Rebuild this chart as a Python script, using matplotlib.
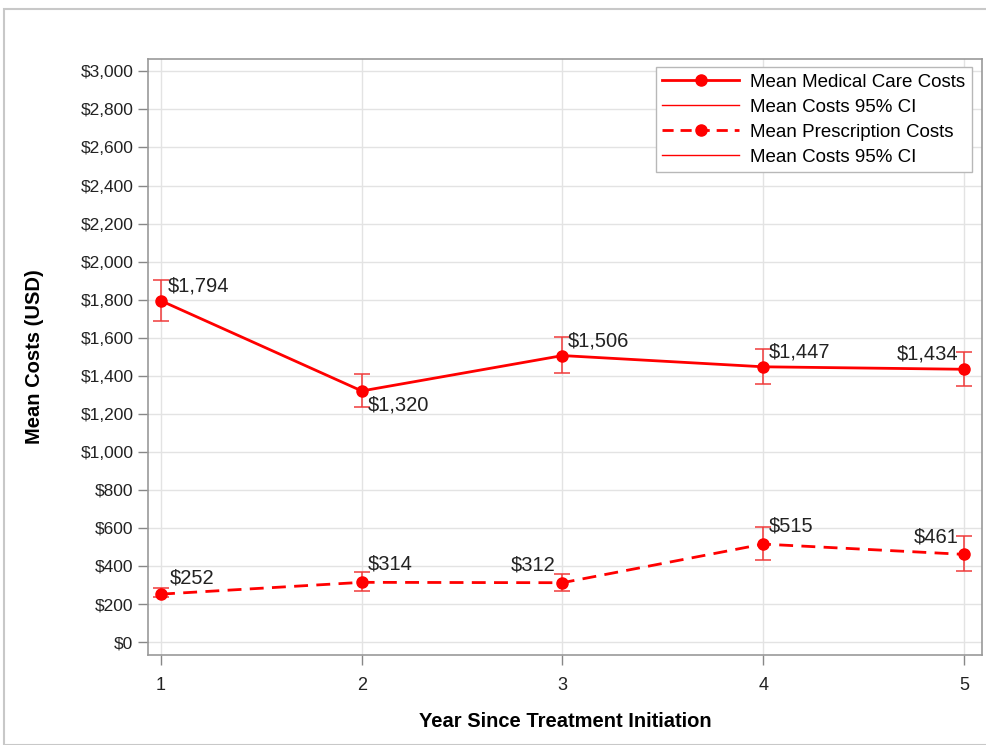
import matplotlib
matplotlib.use("Agg")
import matplotlib.pyplot as plt
from matplotlib.lines import Line2D
from matplotlib.patches import Rectangle
from matplotlib.ticker import FuncFormatter

plt.rcParams['font.family'] = ['Liberation Sans', 'DejaVu Sans']

years = [1, 2, 3, 4, 5]
medical_mean = [1794, 1320, 1506, 1447, 1434]
medical_lo = [1687, 1235, 1414, 1356, 1345]
medical_hi = [1902, 1408, 1603, 1540, 1524]
rx_mean = [252, 314, 312, 515, 461]
rx_lo = [236, 268, 268, 431, 373]
rx_hi = [284, 368, 357, 604, 557]
y_ticks = list(range(0, 3001, 200))

# label placement: (dx, dy) in points, horizontal alignment
medical_label_pos = [((5, 4), 'left'), ((4, -17), 'left'), ((4, 4), 'left'),
                     ((4, 4), 'left'), ((-4, 4), 'right')]
rx_label_pos = [((6, 5), 'left'), ((4, 6), 'left'), ((-5, 6), 'right'),
                ((4, 6), 'left'), ((-4, 6), 'right')]

RED = '#ff0000'
ERR = '#f03a3a'
fig = plt.figure(figsize=(9.86, 7.45), dpi=100)
ax = fig.add_axes([148 / 986, 1 - 655 / 745, (982 - 148) / 986, (655 - 59) / 745])

# outer frame of the graphic
fig.patches.append(Rectangle((4 / 986, 0.0), 1.2, 1 - 9 / 745, transform=fig.transFigure,
                             fill=False, edgecolor='#c8c8c8', linewidth=1.5))


def err(mean, lo, hi):
    return [[m - l for m, l in zip(mean, lo)], [h - m for m, h in zip(mean, hi)]]


ax.errorbar(years, medical_mean, yerr=err(medical_mean, medical_lo, medical_hi),
            fmt='none', ecolor=ERR, elinewidth=1.1, capsize=5.5, capthick=1.1, zorder=3)
ax.errorbar(years, rx_mean, yerr=err(rx_mean, rx_lo, rx_hi),
            fmt='none', ecolor=ERR, elinewidth=1.1, capsize=5.5, capthick=1.1, zorder=3)
ax.plot(years, medical_mean, color=RED, lw=2.0, marker='o', ms=8, zorder=4)
ax.plot(years, rx_mean, color=RED, lw=2.0, ls=(0, (5, 3)), marker='o', ms=8, zorder=4)

for x, y, ((dx, dy), ha) in zip(years, medical_mean, medical_label_pos):
    ax.annotate(f"${y:,}", (x, y), xytext=(dx, dy), textcoords='offset points',
                ha=ha, va='bottom', fontsize=14.5, color='#222222', zorder=5)
for x, y, ((dx, dy), ha) in zip(years, rx_mean, rx_label_pos):
    ax.annotate(f"${y:,}", (x, y), xytext=(dx, dy), textcoords='offset points',
                ha=ha, va='bottom', fontsize=14.5, color='#222222', zorder=5)

ax.set_xlim(0.935, 5.09)
ax.set_ylim(-68, 3065)
ax.set_xticks(years)
ax.set_yticks(y_ticks)
ax.yaxis.set_major_formatter(FuncFormatter(lambda v, p: f"${int(v):,}"))
ax.tick_params(axis='both', labelsize=12.5, colors='#888888', labelcolor='#222222',
               length=7, width=1)
ax.tick_params(axis='x', pad=9, labelsize=13)
ax.grid(True, color='#e3e3e3', lw=1.0, zorder=0)
ax.set_axisbelow(True)
for s in ax.spines.values():
    s.set_color('#999999')
    s.set_linewidth(1.2)

ax.set_xlabel('Year Since Treatment Initiation', fontsize=14.5, fontweight='bold',
              labelpad=13)
ax.set_ylabel('Mean Costs (USD)', fontsize=14.5, fontweight='bold', labelpad=26)

handles = [
    Line2D([], [], color=RED, lw=2.0, marker='o', ms=8),
    Line2D([], [], color=RED, lw=1.0),
    Line2D([], [], color=RED, lw=2.0, ls=(0, (4, 2.5)), marker='o', ms=8),
    Line2D([], [], color=RED, lw=1.0),
]
labels = ['Mean Medical Care Costs', 'Mean Costs 95% CI',
          'Mean Prescription Costs', 'Mean Costs 95% CI']
leg = ax.legend(handles, labels, loc='upper right', fontsize=13.5, handlelength=4.1,
                labelspacing=0.42, borderpad=0.35, handletextpad=0.6, borderaxespad=0,
                fancybox=False, framealpha=1, edgecolor='#b8b8b8',
                bbox_to_anchor=(0.988, 0.9866))
leg.get_frame().set_linewidth(1.0)

fig.savefig('out.png', dpi=100, facecolor='white')
